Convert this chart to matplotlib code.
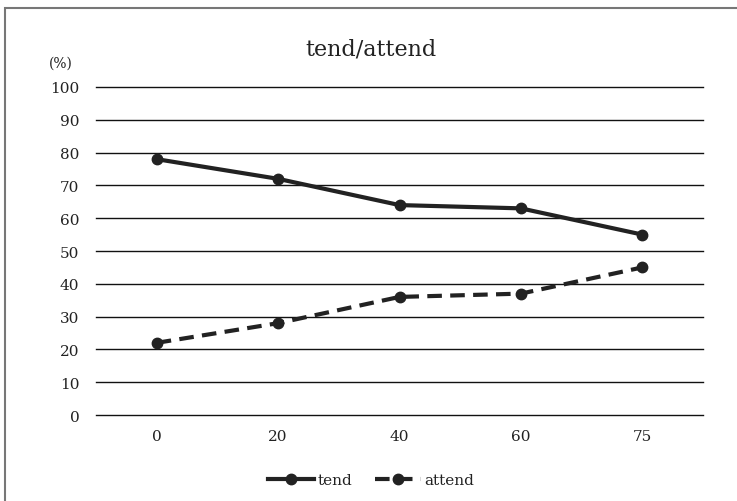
import matplotlib.pyplot as plt
from matplotlib.patches import Rectangle

categories = ['0', '20', '40', '60', '75']
tend = [78, 72, 64, 63, 55]
attend = [22, 28, 36, 37, 45]
yticks = [0, 10, 20, 30, 40, 50, 60, 70, 80, 90, 100]

plt.rcParams['font.family'] = ['DejaVu Serif']

W, H = 737, 502
fig = plt.figure(figsize=(W / 100, H / 100), dpi=100)

# outer frame (only left and top visible in reference)
fig.patches.append(Rectangle((4.5 / W, -0.05), 1.2, (H - 8.5) / H + 0.05,
                             transform=fig.transFigure, fill=False,
                             edgecolor='#777777', linewidth=1.5))

ax = fig.add_axes([96 / W, 1 - 416 / H, (703 - 96) / W, (416 - 88) / H])
x = range(len(categories))
ax.plot(x, tend, color='#222222', linewidth=3, marker='o', markersize=7.5,
        label='tend')
ax.plot(x, attend, color='#222222', linewidth=3, marker='o', markersize=7.5,
        linestyle=(0, (3.5, 2)), label='attend')

ax.set_xlim(-0.5, len(categories) - 0.5)
ax.set_ylim(0, 100)
ax.set_yticks(yticks)
ax.set_xticks(list(x))
ax.set_xticklabels(categories)
ax.grid(axis='y', color='#111111', linewidth=1)
for gl in ax.get_ygridlines():
    gl.set_clip_on(False)
ax.set_axisbelow(True)
for s in ax.spines.values():
    s.set_visible(False)
ax.tick_params(length=0, labelsize=11, pad=12, labelcolor='#222222')
ax.tick_params(axis='x', pad=10)

fig.text(371 / W, 1 - 50 / H, 'tend/attend', ha='center', va='center',
         fontsize=16, color='#222222')
fig.text(61 / W, 1 - 64 / H, '(%)', ha='center', va='center', fontsize=10,
         color='#222222')

fig.legend(loc='center', bbox_to_anchor=(371 / W, 1 - 481 / H), ncol=2,
           frameon=False, fontsize=11, handlelength=3, handletextpad=0.2,
           columnspacing=1.5, labelcolor='#222222')

fig.savefig('out.png', dpi=100)
